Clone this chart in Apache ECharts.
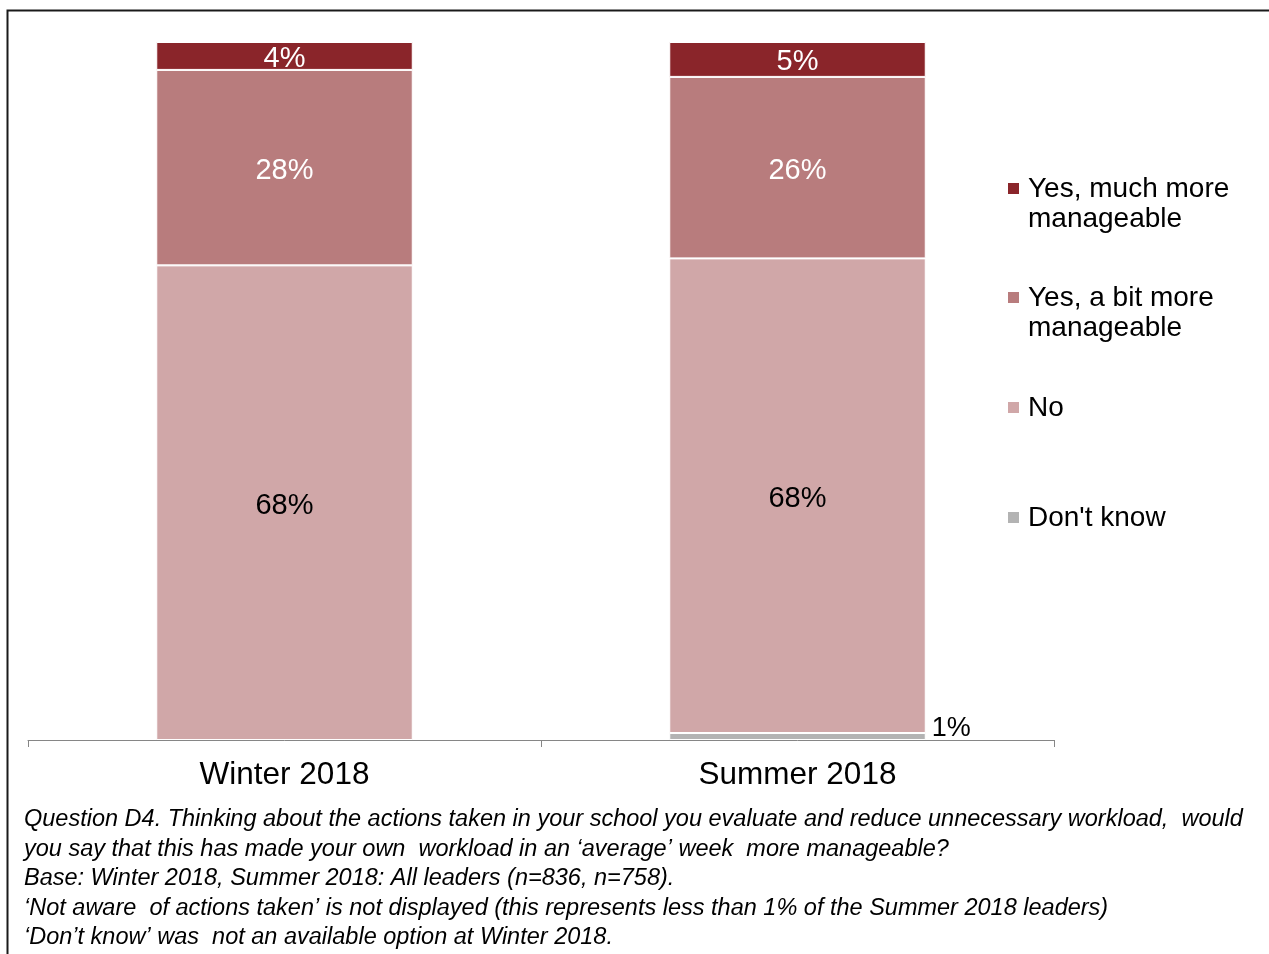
<!DOCTYPE html>
<html>
<head>
<meta charset="utf-8">
<script src="https://cdn.jsdelivr.net/npm/echarts@6/dist/echarts.min.js"></script>
<style>
  html, body { margin: 0; padding: 0; background: #fff; }
  #chart { width: 1269px; height: 954px; }
</style>
</head>
<body>
<div id="chart"></div>
<script>
// Survey waves
const categories = ['Winter 2018', 'Summer 2018'];

// Percentages per answer (stacked bottom to top)
const dontKnow = [null, 1];
const noAnswer = [68, 68];
const bitMore = [28, 26];
const muchMore = [4, 5];

// Legend entries, top to bottom
const legendNames = ['Yes, much more\nmanageable', 'Yes, a bit more\nmanageable', 'No', "Don't know"];
const legendColors = ['#8a252a', '#b87c7d', '#d0a7a8', '#b3b3b3'];

const footnoteLines = [
  'Question D4. Thinking about the actions taken in your school you evaluate and reduce unnecessary workload,  would',
  'you say that this has made your own  workload in an \u2018average\u2019 week  more manageable?',
  'Base: Winter 2018, Summer 2018: All leaders (n=836, n=758).',
  '\u2018Not aware  of actions taken\u2019 is not displayed (this represents less than 1% of the Summer 2018 leaders)',
  '\u2018Don\u2019t know\u2019 was  not an available option at Winter 2018.'
];

const FONT = '"Liberation Sans", Arial, sans-serif';

function barSeries(name, data, color, labelColor) {
  return {
    name: name,
    type: 'bar',
    stack: 'total',
    data: data,
    barWidth: '50%',
    itemStyle: { color: color, borderColor: '#ffffff', borderWidth: 1 },
    label: {
      show: true,
      position: 'inside',
      offset: [0, 3],
      formatter: p => (p.value == null ? '' : p.value + '%'),
      color: labelColor,
      fontFamily: FONT,
      fontSize: 29
    }
  };
}

const dkSeries = barSeries("Don't know", dontKnow, legendColors[3], '#000');
dkSeries.label.position = 'right';
dkSeries.label.distance = 6;
dkSeries.label.offset = [0, -8];
dkSeries.label.fontSize = 27;

const series = [
  dkSeries,
  barSeries('No', noAnswer, legendColors[2], '#000'),
  barSeries('Yes, a bit more manageable', bitMore, legendColors[1], '#fff'),
  barSeries('Yes, much more manageable', muchMore, legendColors[0], '#fff')
];

// Legend drawn as graphic items so the marker sits beside the first text line
const legendTops = [188, 297, 407, 517];
const legendGraphics = [];
legendNames.forEach((name, i) => {
  legendGraphics.push({
    type: 'rect',
    left: 1008, top: legendTops[i] - 5,
    shape: { width: 11, height: 11 },
    style: { fill: legendColors[i] }
  });
  legendGraphics.push({
    type: 'text',
    left: 1028, top: legendTops[i] - 14,
    style: {
      text: name,
      fill: '#000',
      font: '28px ' + FONT,
      lineHeight: 30
    }
  });
});

const chart = echarts.init(document.getElementById('chart'));
chart.setOption({
  animation: false,
  backgroundColor: '#fff',
  title: {
    text: footnoteLines.join('\n'),
    left: 19, top: 800,
    textStyle: {
      fontFamily: FONT,
      fontStyle: 'italic',
      fontWeight: 'normal',
      fontSize: 23.5,
      lineHeight: 29.5,
      color: '#000'
    }
  },
  grid: { left: 28, right: 215, top: 42, bottom: 214 },
  xAxis: {
    type: 'category',
    data: categories,
    axisLine: { lineStyle: { color: '#868686', width: 1 } },
    axisTick: { show: true, length: 7, lineStyle: { color: '#868686' } },
    axisLabel: { color: '#000', fontFamily: FONT, fontSize: 31.5, margin: 19 }
  },
  yAxis: { type: 'value', min: 0, max: 100, show: false, splitLine: { show: false } },
  series: series,
  graphic: [
    {
      type: 'rect',
      shape: { x: 7.5, y: 10.5, width: 1300, height: 1000 },
      style: { fill: null, stroke: '#1a1a1a', lineWidth: 2 },
      silent: true
    }
  ].concat(legendGraphics)
});
</script>
</body>
</html>
